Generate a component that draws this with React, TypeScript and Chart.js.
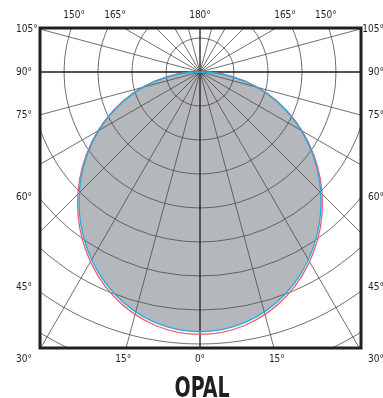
import React, { useEffect, useRef } from "react";
import { Chart, registerables } from "chart.js";

Chart.register(...registerables);

// Grid geometry in chart units (1 grid ring = 10 units), pole at (0, 0)
const ringRadii = [10, 20, 30, 40, 50, 60, 70, 80, 90, 100];
const radialAngles = [0, 15, 30, 45, 60, 75, 90, 105, 120, 135, 150, 165]; // degrees from downward vertical
const boldAngles = [0, 90];

// Coverage (beam footprint) ellipses: [centerX, centerY, radiusX, radiusY]
const coverageBlue = [0, -38.2, 35.6, 38.2];
const coverageRed = [0, -38.6, 36.0, 38.6];

// Tick labels
const topLabels = ["150°", "165°", "180°", "165°", "150°"];
const topLabelX = [-37, -25, 0, 25, 37];
const topLabelY = 16.5;
const bottomLabels = ["15°", "0°", "15°"];
const bottomLabelX = [-22.6, 0, 22.6];
const bottomLabelY = -84.4;
const sideLabels = ["105°", "90°", "75°", "60°", "45°", "30°"];
const sideLabelY = [12.6, 0, -12.9, -36.8, -63.5, -84.4];
const sideLabelX = 54.1;

const titleText = "OPAL";

const X_MIN = -47.06, X_MAX = 47.35, Y_MIN = -81.18, Y_MAX = 12.94;

const labelFont = "10px 'Liberation Sans Narrow', 'DejaVu Sans Condensed', sans-serif";

const polarPlugin = {
  id: "polarGrid",
  beforeDatasetsDraw(chart: any) {
    const { ctx, chartArea: a, scales } = chart;
    const xs = scales.x, ys = scales.y;
    const px = (v: number) => xs.getPixelForValue(v);
    const py = (v: number) => ys.getPixelForValue(v);
    const ux = px(1) - px(0);
    const uy = py(0) - py(1);
    const ox = px(0), oy = py(0);

    ctx.save();
    ctx.beginPath();
    ctx.rect(a.left, a.top, a.right - a.left, a.bottom - a.top);
    ctx.clip();

    // coverage fill
    ctx.beginPath();
    ctx.ellipse(px(coverageBlue[0]), py(coverageBlue[1]), coverageBlue[2] * ux, coverageBlue[3] * uy, 0, 0, Math.PI * 2);
    ctx.fillStyle = "#b4b8bd";
    ctx.fill();

    // rings
    ctx.strokeStyle = "#4a4a4a";
    ctx.lineWidth = 0.8;
    for (const r of ringRadii) {
      ctx.beginPath();
      ctx.arc(ox, oy, r * ux, 0, Math.PI * 2);
      ctx.stroke();
    }

    // radial lines
    for (const ang of radialAngles) {
      const t = (ang * Math.PI) / 180;
      const far = 200;
      const dx = Math.sin(t) * far, dy = -Math.cos(t) * far;
      const bold = boldAngles.includes(ang);
      ctx.beginPath();
      ctx.moveTo(px(-dx), py(-dy));
      ctx.lineTo(px(dx), py(dy));
      ctx.strokeStyle = bold ? "#1a1a1a" : "#4a4a4a";
      ctx.lineWidth = bold ? 1.3 : 0.8;
      ctx.stroke();
    }

    // outlines
    ctx.lineWidth = 1.3;
    ctx.beginPath();
    ctx.ellipse(px(coverageRed[0]), py(coverageRed[1]), coverageRed[2] * ux, coverageRed[3] * uy, 0, 0, Math.PI * 2);
    ctx.strokeStyle = "#e4606c";
    ctx.stroke();
    ctx.beginPath();
    ctx.ellipse(px(coverageBlue[0]), py(coverageBlue[1]), coverageBlue[2] * ux, coverageBlue[3] * uy, 0, 0, Math.PI * 2);
    ctx.strokeStyle = "#27a9e1";
    ctx.stroke();
    ctx.restore();

    // frame
    ctx.save();
    ctx.strokeStyle = "#231f20";
    ctx.lineWidth = 3;
    ctx.strokeRect(a.left, a.top, a.right - a.left, a.bottom - a.top);
    ctx.restore();
  },
  afterDraw(chart: any) {
    const { ctx, scales } = chart;
    const px = (v: number) => scales.x.getPixelForValue(v);
    const py = (v: number) => scales.y.getPixelForValue(v);
    ctx.save();
    ctx.fillStyle = "#231f20";
    ctx.font = labelFont;
    ctx.textBaseline = "middle";
    ctx.textAlign = "center";
    topLabels.forEach((t, i) => ctx.fillText(t, px(topLabelX[i]), py(topLabelY)));
    bottomLabels.forEach((t, i) => ctx.fillText(t, px(bottomLabelX[i]), py(bottomLabelY)));
    sideLabels.forEach((t, i) => {
      ctx.textAlign = "left";
      ctx.fillText(t, px(-sideLabelX), py(sideLabelY[i]));
      ctx.textAlign = "right";
      ctx.fillText(t, px(sideLabelX), py(sideLabelY[i]));
    });

    // title
    ctx.font = "bold 28px 'Liberation Sans Narrow', 'DejaVu Sans Condensed', sans-serif";
    ctx.textAlign = "center";
    ctx.textBaseline = "alphabetic";
    const w = ctx.measureText(titleText).width;
    const target = 55;
    const sx = target / w;
    ctx.translate(202, 397);
    ctx.scale(sx, 1);
    ctx.fillText(titleText, 0, 0);
    ctx.restore();
  },
};

export default function App() {
  const ref = useRef<HTMLCanvasElement>(null);
  useEffect(() => {
    document.body.style.margin = "0";
    const chart = new Chart(ref.current!, {
      type: "scatter",
      data: { datasets: [{ data: [], showLine: false }] },
      options: {
        animation: false,
        responsive: false,
        maintainAspectRatio: false,
        layout: { padding: { left: 40, right: 22, top: 28, bottom: 50 } },
        plugins: { legend: { display: false }, tooltip: { enabled: false } },
        scales: {
          x: { type: "linear", min: X_MIN, max: X_MAX, display: false },
          y: { type: "linear", min: Y_MIN, max: Y_MAX, display: false },
        },
      },
      plugins: [polarPlugin],
    });
    return () => chart.destroy();
  }, []);
  return (
    <div style={{ width: 383, height: 398 }}>
      <canvas ref={ref} width={383} height={398} style={{ display: "block" }} />
    </div>
  );
}
